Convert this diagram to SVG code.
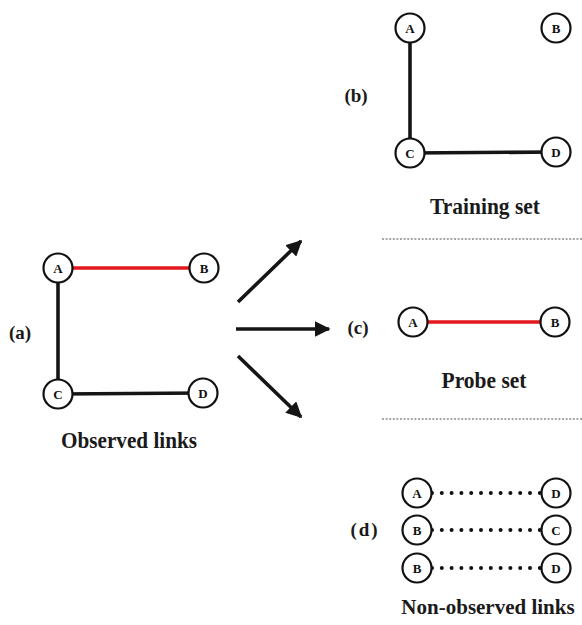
<svg xmlns="http://www.w3.org/2000/svg" width="582" height="625" viewBox="0 0 582 625">
  <style>
    .node circle { fill: #fff; stroke: #111; stroke-width: 2.2; }
    .node text { font-family: "Liberation Serif", "Times New Roman", serif; font-weight: bold; font-size: 13px; fill: #111; text-anchor: middle; dominant-baseline: central; }
    .edge { stroke: #151515; stroke-width: 3.6; fill: none; }
    .edge.red { stroke: #e3191f; }
    .dots { stroke: #111; stroke-width: 4; stroke-linecap: round; stroke-dasharray: 0 9.8; fill: none; }
    .sep { stroke: #8a8a8a; stroke-width: 1.4; stroke-dasharray: 2 1.6; }
    .arrow { stroke: #151515; stroke-width: 3.6; fill: none; }
    .title { font-family: "Liberation Serif", "Times New Roman", serif; font-weight: bold; font-size: 23px; fill: #1a1a1a; text-anchor: middle; }
    .title.small { font-size: 21px; }
    .tag { font-family: "Liberation Serif", "Times New Roman", serif; font-weight: bold; font-size: 19px; fill: #1a1a1a; text-anchor: middle; }
  </style>
  <defs>
    <marker id="head" viewBox="0 0 10 10" refX="9" refY="5" markerWidth="4.4" markerHeight="4.4" markerUnits="strokeWidth" orient="auto">
      <path d="M0,0 L10,5 L0,10 Z" fill="#151515"/>
    </marker>
  </defs>

  <!-- connectors -->
  <g id="connectors">
    <!-- (a) observed links -->
    <line class="edge red" x1="58" y1="268" x2="204" y2="268"/>
    <line class="edge" x1="58" y1="268" x2="58" y2="394"/>
    <line class="edge" x1="58" y1="394" x2="203" y2="393"/>
    <!-- (b) training set -->
    <line class="edge" x1="410" y1="28" x2="410" y2="153"/>
    <line class="edge" x1="410" y1="153" x2="556" y2="152"/>
    <!-- (c) probe set -->
    <line class="edge red" x1="413" y1="322" x2="555" y2="322"/>
    <!-- (d) non-observed links -->
    <line class="dots" x1="432" y1="493" x2="541" y2="493"/>
    <line class="dots" x1="432" y1="530" x2="541" y2="530"/>
    <line class="dots" x1="432" y1="568" x2="541" y2="568"/>
    <!-- split arrows -->
    <line class="arrow" x1="238" y1="302" x2="301" y2="241" marker-end="url(#head)"/>
    <line class="arrow" x1="236" y1="329" x2="329" y2="329" marker-end="url(#head)"/>
    <line class="arrow" x1="238" y1="356" x2="301" y2="417" marker-end="url(#head)"/>
    <!-- separators -->
    <line class="sep" x1="382" y1="239" x2="582" y2="239"/>
    <line class="sep" x1="382" y1="419" x2="582" y2="419"/>
  </g>

  <!-- (a) observed links -->
  <g id="a-A" class="node"><circle cx="58" cy="268" r="14.5"/><text x="58" y="268">A</text></g>
  <g id="a-B" class="node"><circle cx="204" cy="268" r="14.5"/><text x="204" y="268">B</text></g>
  <g id="a-C" class="node"><circle cx="58" cy="394" r="14.5"/><text x="58" y="394">C</text></g>
  <g id="a-D" class="node"><circle cx="203" cy="393" r="14.5"/><text x="203" y="393">D</text></g>

  <!-- (b) training set -->
  <g id="b-A" class="node"><circle cx="410" cy="28" r="14.5"/><text x="410" y="28">A</text></g>
  <g id="b-B" class="node"><circle cx="556" cy="28" r="14.5"/><text x="556" y="28">B</text></g>
  <g id="b-C" class="node"><circle cx="410" cy="153" r="14.5"/><text x="410" y="153">C</text></g>
  <g id="b-D" class="node"><circle cx="556" cy="152" r="14.5"/><text x="556" y="152">D</text></g>

  <!-- (c) probe set -->
  <g id="c-A" class="node"><circle cx="413" cy="322" r="14.5"/><text x="413" y="322">A</text></g>
  <g id="c-B" class="node"><circle cx="555" cy="322" r="14.5"/><text x="555" y="322">B</text></g>

  <!-- (d) non-observed links -->
  <g id="d-A1" class="node"><circle cx="417" cy="493" r="14.5"/><text x="417" y="493">A</text></g>
  <g id="d-D1" class="node"><circle cx="556" cy="493" r="14.5"/><text x="556" y="493">D</text></g>
  <g id="d-B2" class="node"><circle cx="417" cy="530" r="14.5"/><text x="417" y="530">B</text></g>
  <g id="d-C2" class="node"><circle cx="556" cy="530" r="14.5"/><text x="556" y="530">C</text></g>
  <g id="d-B3" class="node"><circle cx="417" cy="568" r="14.5"/><text x="417" y="568">B</text></g>
  <g id="d-D3" class="node"><circle cx="556" cy="568" r="14.5"/><text x="556" y="568">D</text></g>

  <!-- panel tags -->
  <text class="tag" x="20" y="339">(a)</text>
  <text class="tag" x="356" y="102">(b)</text>
  <text class="tag" x="358" y="334">(c)</text>
  <text class="tag" x="365" y="536" letter-spacing="2">(d)</text>

  <!-- captions -->
  <text class="title" x="129" y="448" textLength="136" lengthAdjust="spacingAndGlyphs">Observed links</text>
  <text class="title" x="485" y="214" textLength="110" lengthAdjust="spacingAndGlyphs">Training set</text>
  <text class="title" x="484" y="388" textLength="85" lengthAdjust="spacingAndGlyphs">Probe set</text>
  <text class="title small" x="488" y="614">Non-observed links</text>
</svg>
